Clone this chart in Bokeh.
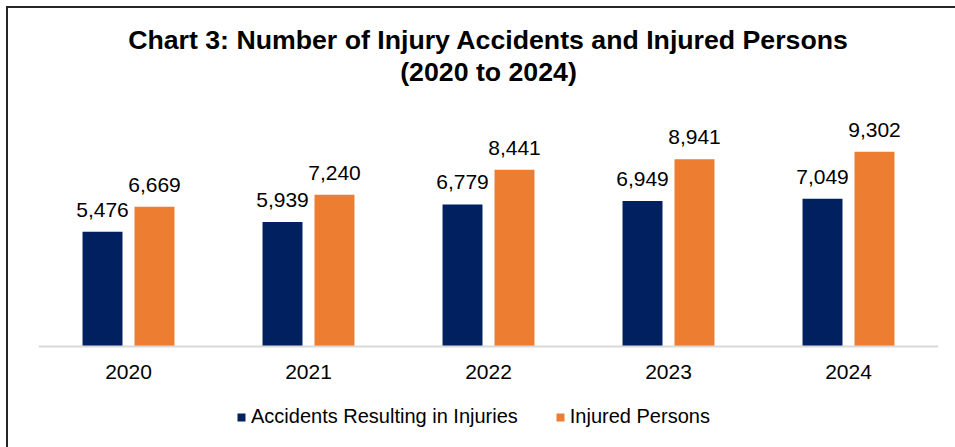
from bokeh.plotting import figure
from bokeh.models import (ColumnDataSource, FactorRange, Range1d, LabelSet, Legend,
                          LegendItem, Title, Span)
from bokeh.core.properties import value
from bokeh.transform import dodge
from bokeh.embed import file_html
from bokeh.resources import INLINE

years = ["2020", "2021", "2022", "2023", "2024"]
accidents = [5476, 5939, 6779, 6949, 7049]
injured = [6669, 7240, 8441, 8941, 9302]
series_names = ["Accidents Resulting in Injuries", "Injured Persons"]
title_line1 = "Chart 3: Number of Injury Accidents and Injured Persons"
title_line2 = "(2020 to 2024)"

NAVY = "#002060"
ORANGE = "#ED7D31"
FONT = "Liberation Sans"

src = ColumnDataSource(dict(
    year=years,
    base=[0] * len(years),
    acc=accidents,
    inj=injured,
    acc_lbl=[f"{v:,}" for v in accidents],
    inj_lbl=[f"{v:,}" for v in injured],
))

# frame extends below the baseline so the category labels and legend live inside it
p = figure(
    x_range=FactorRange(*years),
    y_range=Range1d(-4439, 11600),
    frame_width=900, frame_height=336,
    output_backend="svg", toolbar_location=None,
    min_border_left=30, min_border_right=17,
    min_border_top=95, min_border_bottom=8,
    title=None,
)
p.styles = {"margin-left": "6px", "margin-top": "6px",
            "border-top": "2px solid #262626", "border-left": "2px solid #262626"}

# second line added first -> closest to the frame
t2 = Title(text=title_line2, align="center", text_font=FONT, text_font_size="26.7px",
           text_font_style="bold", text_color="#000000", standoff=34, offset=0)
t1 = Title(text=title_line1, align="center", text_font=FONT, text_font_size="26.7px",
           text_font_style="bold", text_color="#000000", standoff=-34, offset=0)
p.add_layout(t2, "above")
p.add_layout(t1, "above")

off = 0.1444
bw = 0.222
r1 = p.vbar(x=dodge("year", -off, range=p.x_range), top="acc", bottom="base", width=bw,
            source=src, fill_color=NAVY, line_color=None)
r2 = p.vbar(x=dodge("year", off, range=p.x_range), top="inj", bottom="base", width=bw,
            source=src, fill_color=ORANGE, line_color=None)

for col, lbl, o in (("acc", "acc_lbl", -off), ("inj", "inj_lbl", off)):
    ls = LabelSet(x=dodge("year", o, range=p.x_range), y=col, text=lbl, source=src,
                  text_align="center", text_baseline="alphabetic", y_offset=15,
                  text_font=value(FONT), text_font_size=value("21px"),
                  text_color="#000000")
    p.add_layout(ls)

# category baseline and category labels
p.add_layout(Span(location=0, dimension="width", line_color="#D9D9D9", line_width=2))
cat = LabelSet(x="year", y="base", text="year", source=src,
               text_align="center", text_baseline="alphabetic", y_offset=-32,
               text_font=value(FONT), text_font_size=value("21px"), text_color="#000000")
p.add_layout(cat)

p.xaxis.visible = False
p.yaxis.visible = False
p.xgrid.grid_line_color = None
p.ygrid.grid_line_color = None
p.outline_line_color = None

legend = Legend(items=[LegendItem(label=series_names[0], renderers=[r1]),
                       LegendItem(label=series_names[1], renderers=[r2])],
                orientation="horizontal", location=(198, 11),
                glyph_width=10, glyph_height=10, label_standoff=5, spacing=37,
                label_text_font=FONT, label_text_font_size="20px", label_text_color="#000000",
                border_line_color=None, background_fill_alpha=0, padding=0, margin=0)
p.add_layout(legend, "center")

open("out.html", "w").write(file_html(p, INLINE))
